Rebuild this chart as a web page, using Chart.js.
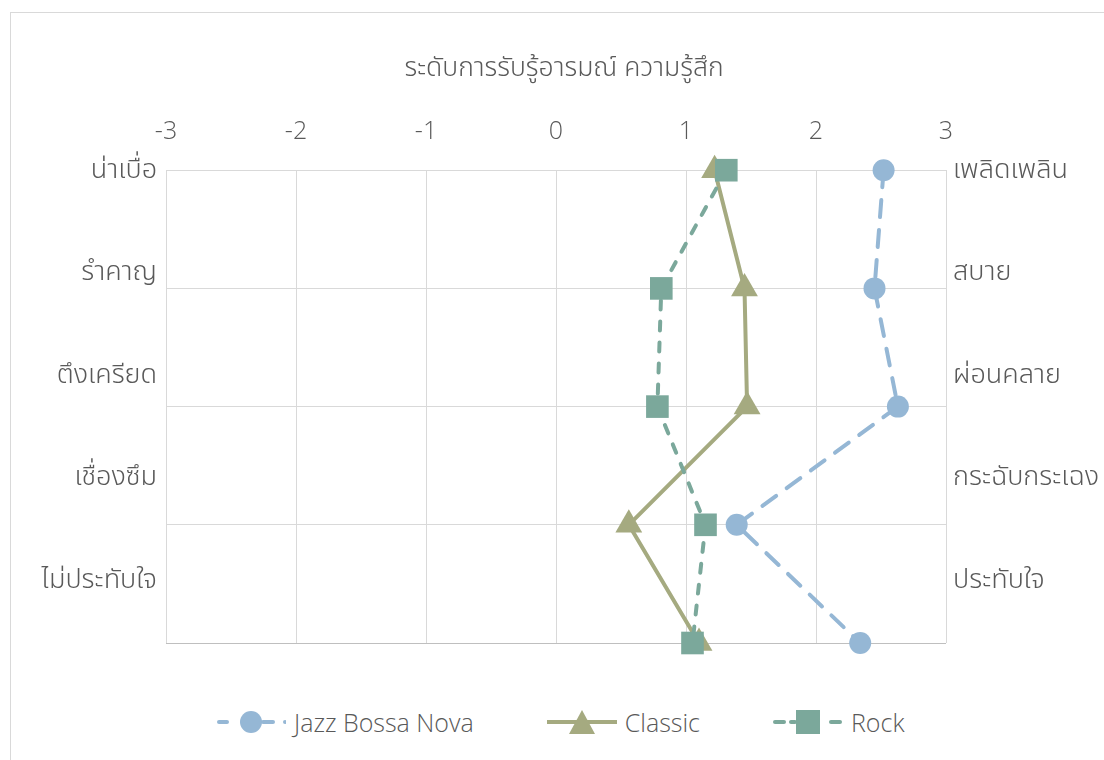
<!DOCTYPE html>
<html>
<head>
<meta charset="utf-8">
<title>ระดับการรับรู้อารมณ์ ความรู้สึก</title>
<script src="https://cdn.jsdelivr.net/npm/chart.js@4.4.1/dist/chart.umd.min.js"></script>
<style>
  html, body { margin: 0; background: #fff; overflow: hidden; }
  .frame {
    position: absolute; left: 10px; top: 12px;
    width: 1106px; height: 760px;
    border: 1px solid #d9d9d9;
  }
  canvas { display: block; }
  #legend {
    position: absolute; left: 205px; top: 695px;
    display: flex; gap: 73px;
    font: 300 25px 'Open Sans', 'Noto Sans', sans-serif;
    color: #595959;
  }
  #legend .item { display: flex; align-items: center; height: 28px; }
  #legend .item span { margin-left: 8px; line-height: 28px; white-space: nowrap; }
</style>
</head>
<body>
<div class="frame">
  <canvas id="moodChart" width="1106" height="690"></canvas>
  <div id="legend"></div>
</div>
<script>
// rows of the chart, top to bottom
const rows = [0, 1, 2, 3, 4]
const xTicks = [-3, -2, -1, 0, 1, 2, 3]

// negative feelings on the left, positive ones on the right
const leftLabels = ['น่าเบื่อ', 'รำคาญ', 'ตึงเครียด', 'เชื่องซึม', 'ไม่ประทับใจ']
const rightLabels = ['เพลิดเพลิน', 'สบาย', 'ผ่อนคลาย', 'กระฉับกระเฉง', 'ประทับใจ']
const labelRows = [0, 0.867, 1.733, 2.6, 3.467]

// mean score per row
const jazz = [2.52, 2.45, 2.63, 1.39, 2.34]
const classic = [1.22, 1.45, 1.47, 0.56, 1.10]
const rock = [1.31, 0.81, 0.78, 1.15, 1.05]

const textColor = '#595959'
const gridColor = '#d9d9d9'

Chart.defaults.font.family = "'Open Sans', 'Noto Sans', 'Noto Sans Thai', sans-serif"
Chart.defaults.font.weight = 300

const series = [
  {
    label: 'Jazz Bossa Nova', values: jazz, color: '#95b7d5', dash: [17, 13],
    marker: 'circle', radius: 11, order: 3,
    legendSegments: [[3, 11], [47, 57], [69, 69]]
  },
  {
    label: 'Classic', values: classic, color: '#a5aa80', dash: [],
    marker: 'triangle', radius: 15.5, order: 2,
    legendSegments: [[0, 70]]
  },
  {
    label: 'Rock', values: rock, color: '#7ba89b', dash: [9, 12],
    marker: 'rect', radius: 16, order: 1,
    legendSegments: [[2, 11], [18, 22], [58, 67]]
  }
]

// line + marker picture for a legend entry
function legendSample(s) {
  const c = document.createElement('canvas')
  c.width = 70
  c.height = 28
  const g = c.getContext('2d')
  g.strokeStyle = s.color
  g.fillStyle = s.color
  g.lineWidth = 4
  g.lineCap = s.dash.length ? 'round' : 'butt'
  s.legendSegments.forEach(([a, b]) => {
    g.beginPath()
    g.moveTo(a, 14)
    g.lineTo(b, 14)
    g.stroke()
  })
  g.beginPath()
  if (s.marker === 'circle') {
    g.arc(35, 14, 11, 0, Math.PI * 2)
  } else if (s.marker === 'triangle') {
    g.moveTo(35, 2)
    g.lineTo(48, 26)
    g.lineTo(22, 26)
    g.closePath()
  } else {
    g.rect(23, 2, 24, 24)
  }
  g.fill()
  return c
}

const samples = series.map(legendSample)

// legend built as html under the canvas, one entry per dataset
const htmlLegend = {
  id: 'htmlLegend',
  afterUpdate(chart) {
    const box = document.getElementById('legend')
    box.innerHTML = ''
    chart.data.datasets.forEach((ds, i) => {
      const item = document.createElement('div')
      item.className = 'item'
      item.appendChild(samples[i])
      const text = document.createElement('span')
      text.textContent = ds.label
      item.appendChild(text)
      box.appendChild(item)
    })
  }
}

const datasets = series.map(s => ({
  label: s.label,
  data: s.values.map((v, i) => ({ x: v, y: rows[i] })),
  borderColor: s.color,
  backgroundColor: s.color,
  borderWidth: 4,
  borderDash: s.dash,
  borderCapStyle: s.dash.length ? 'round' : 'butt',
  borderJoinStyle: 'round',
  pointStyle: s.marker,
  pointRadius: s.radius,
  pointHoverRadius: s.radius,
  pointBorderWidth: 0,
  pointBackgroundColor: s.color,
  tension: 0,
  clip: false,
  order: s.order,
  xAxisID: 'x',
  yAxisID: 'y'
}))

function sideAxis(position, labels, pad, width) {
  return {
    type: 'linear',
    position: position,
    min: 0,
    max: 4,
    reverse: true,
    afterBuildTicks: axis => { axis.ticks = labelRows.map(v => ({ value: v })) },
    afterFit: axis => { axis.width = width },
    ticks: {
      autoSkip: false,
      padding: pad,
      color: textColor,
      font: { size: 27 },
      callback: (value, index) => labels[index]
    },
    grid: { display: false, drawTicks: false },
    border: { display: false }
  }
}

new Chart(document.getElementById('moodChart'), {
  type: 'line',
  data: { datasets },
  plugins: [htmlLegend],
  options: {
    responsive: false,
    animation: false,
    layout: { padding: { bottom: 60 } },
    scales: {
      x: {
        type: 'linear',
        position: 'top',
        min: -3,
        max: 3,
        afterBuildTicks: axis => { axis.ticks = xTicks.map(v => ({ value: v })) },
        afterFit: axis => { axis.height = 86.3 },
        ticks: { color: textColor, font: { size: 25 }, padding: 23 },
        grid: { color: gridColor, lineWidth: 1, drawTicks: false },
        border: { display: false }
      },
      y: {
        type: 'linear',
        position: 'left',
        min: 0,
        max: 4,
        reverse: true,
        afterFit: axis => { axis.width = 0 },
        ticks: { display: false, stepSize: 1 },
        grid: {
          color: ctx => (ctx.index === 0 ? '#bfbfbf' : gridColor),
          lineWidth: 1,
          drawTicks: false
        },
        border: { display: false }
      },
      yLeft: sideAxis('left', leftLabels, 9, 155),
      yRight: sideAxis('right', rightLabels, 7, 171)
    },
    plugins: {
      tooltip: { enabled: false },
      legend: { display: false },
      title: {
        display: true,
        text: 'ระดับการรับรู้อารมณ์ ความรู้สึก',
        color: textColor,
        font: { size: 26.5, weight: 300 },
        padding: { top: 39.1, bottom: 0 }
      }
    }
  }
})
</script>
</body>
</html>
